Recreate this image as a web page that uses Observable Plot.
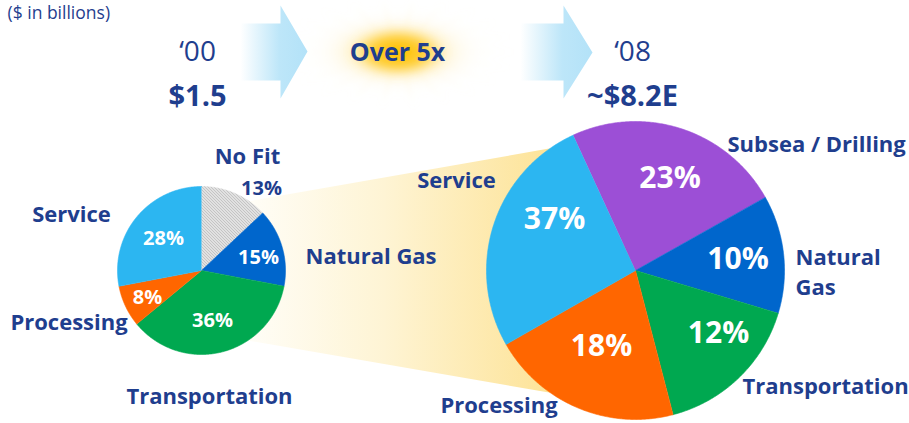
<!DOCTYPE html>
<html>
<head>
<meta charset="utf-8">
<script src="https://cdn.jsdelivr.net/npm/d3@7"></script>
<script src="https://cdn.jsdelivr.net/npm/@observablehq/plot@0.6"></script>
<style>
  html, body { margin: 0; padding: 0; background: #fff; }
  #chart { width: 909px; height: 423px; overflow: hidden; }
</style>
</head>
<body>
<div id="chart"></div>
<script>
// ---------------- data ----------------
const unitsLabel = "($ in billions)";
const yearLabels = ["‘00", "‘08"];
const totalLabels = ["$1.5", "~$8.2E"];
const growthLabel = "Over 5x";

const pie00Categories = ["No Fit", "Natural Gas", "Transportation", "Processing", "Service"];
const pie00Percent = [13, 15, 36, 8, 28];

const pie08Categories = ["Subsea / Drilling", "Natural Gas", "Transportation", "Processing", "Service"];
const pie08Percent = [23, 10, 12, 18, 37];          // printed labels
const pie08DrawnShare = [23.7, 12.8, 16.3, 20.8, 26.4]; // slice sizes as drawn in the picture

// ---------------- layout / style ----------------
const W = 909, H = 423;
const ink = "#1f3e8e";
const font = "'Open Sans', sans-serif";
const colors00 = ["url(#hatch)", "#0066cc", "#00a850", "#ff6600", "#2cb6f1"];
const colors08 = ["#9c4fd6", "#0066cc", "#00a850", "#ff6600", "#2cb6f1"];

const layout00 = {
  cx: 201, cy: 270, r: 84, start: 0,
  pct: [[261, 188.5, ink], [258, 257, "#fff"], [212, 320, "#fff"], [147, 297, "#fff"], [163, 238, "#fff"]],
  cat: [[247, 156.5, "middle"], [305, 254, "start"], [209, 396, "middle"], [68.5, 322, "middle"], [71, 214.5, "middle"]],
  wrap: [false, false, false, false, false]
};
const layout08 = {
  cx: 635, cy: 270, r: 149, start: -24.7,
  pct: [[669.5, 177.5, "#fff"], [737.5, 259, "#fff"], [718, 332.5, "#fff"], [601, 346, "#fff"], [554, 219, "#fff"]],
  cat: [[727, 142, "start"], [795, 270, "start"], [742, 384, "start"], [498.5, 405, "middle"], [456, 180, "middle"]],
  wrap: [false, true, false, false, false]
};
const headerLayout = { years: [[197, 52], [632, 52]], totals: [[197, 96], [632, 96]], growth: [397, 52], units: [7, 13] };
const arrowShapes = [
  [[240, 23], [280, 23], [280, 5], [307, 51], [280, 98], [280, 80], [240, 80]],
  [[520, 23], [563, 23], [563, 5], [592, 52], [563, 98], [563, 80], [520, 80]]
];
const fanShape = [[230, 204], [560, 146], [640, 270], [560, 394], [230, 337]];
const sun = { x: 398, y: 52, rx: 126, ry: 60 };

// ---------------- geometry helpers ----------------
function wedgeRows(shares, colors, L, prefix) {
  const a0 = L.start * Math.PI / 180;
  const arcs = d3.pie().sort(null).startAngle(a0).endAngle(a0 + 2 * Math.PI)(shares);
  const rows = [];
  arcs.forEach((p, i) => {
    const key = prefix + i, fill = colors[i];
    rows.push({ key, x: L.cx, y: L.cy, fill });
    const n = Math.max(2, Math.ceil((p.endAngle - p.startAngle) / (Math.PI / 360)));
    for (let k = 0; k <= n; k++) {
      const a = p.startAngle + (p.endAngle - p.startAngle) * k / n;
      rows.push({ key, x: L.cx + L.r * Math.sin(a), y: L.cy - L.r * Math.cos(a), fill });
    }
  });
  return rows;
}
function shapeRows(shapes, fill, prefix) {
  const rows = [];
  shapes.forEach((s, i) => s.forEach(([x, y]) => rows.push({ key: prefix + i, x, y, fill })));
  return rows;
}

const wedges = [...wedgeRows(pie00Percent, colors00, layout00, "a"), ...wedgeRows(pie08DrawnShare, colors08, layout08, "b")];
const arrows = shapeRows(arrowShapes, "url(#arrowGrad)", "arrow");
const fan = shapeRows([fanShape], "url(#fanGrad)", "fan");

const pctRows = [
  ...pie00Percent.map((v, i) => ({ text: v + "%", x: layout00.pct[i][0], y: layout00.pct[i][1], fill: layout00.pct[i][2], size: 20 })),
  ...pie08Percent.map((v, i) => ({ text: v + "%", x: layout08.pct[i][0], y: layout08.pct[i][1], fill: layout08.pct[i][2], size: 30 }))
];
const catRows = [
  ...pie00Categories.map((c, i) => ({ text: layout00.wrap[i] ? c.replace(" ", "\n") : c, x: layout00.cat[i][0], y: layout00.cat[i][1], anchor: layout00.cat[i][2] })),
  ...pie08Categories.map((c, i) => ({ text: layout08.wrap[i] ? c.replace(" ", "\n") : c, x: layout08.cat[i][0], y: layout08.cat[i][1], anchor: layout08.cat[i][2] }))
];

// sun render mark (decoration) positioned through the plot scales
function sunMark(index, scales) {
  const cx = scales.x(sun.x), cy = scales.y(sun.y);
  const g = d3.create("svg:g");
  const N = 44, pts = [];
  for (let i = 0; i < 2 * N; i++) {
    const a = i * Math.PI / N;
    const rad = i % 2 === 1 ? 0.22 : (i % 4 === 0 ? 1 : 0.75);
    pts.push([cx + sun.rx * rad * Math.cos(a), cy + sun.ry * rad * Math.sin(a)]);
  }
  g.append("path").attr("d", "M" + pts.join("L") + "Z").attr("fill", "url(#sunGrad)").attr("filter", "url(#sunBlur)");
  g.append("ellipse").attr("cx", cx).attr("cy", cy).attr("rx", sun.rx * 0.38).attr("ry", sun.ry * 0.42)
    .attr("fill", "url(#sunCore)").attr("filter", "url(#sunBlur2)");
  return g.node();
}

const common = { fontFamily: font, fontWeight: 700 };
const chart = Plot.plot({
  width: W, height: H, margin: 0,
  x: { domain: [0, W], range: [0, W], axis: null },
  y: { domain: [0, H], range: [0, H], axis: null },
  color: { type: "identity" },
  style: { fontFamily: font, background: "#fff", overflow: "hidden" },
  marks: [
    sunMark,
    Plot.line(arrows, { x: "x", y: "y", z: "key", fill: "fill", stroke: "none", curve: "linear" }),
    Plot.line(fan, { x: "x", y: "y", z: "key", fill: "fill", stroke: "none", curve: "linear" }),
    Plot.line(wedges, { x: "x", y: "y", z: "key", fill: "fill", stroke: "fill", strokeWidth: 0.6, curve: "linear" }),
    Plot.text([unitsLabel], { x: headerLayout.units[0], y: headerLayout.units[1], text: d => d, textAnchor: "start", fill: ink, fontSize: 17.5, fontFamily: font }),
    Plot.text(yearLabels, { x: (d, i) => headerLayout.years[i][0], y: (d, i) => headerLayout.years[i][1], text: d => d, fill: ink, fontSize: 28, fontFamily: font }),
    Plot.text(totalLabels, { x: (d, i) => headerLayout.totals[i][0], y: (d, i) => headerLayout.totals[i][1], text: d => d, fill: ink, fontSize: 29, ...common }),
    Plot.text([growthLabel], { x: headerLayout.growth[0], y: headerLayout.growth[1], text: d => d, fill: ink, fontSize: 25, ...common }),
    Plot.text(catRows.filter(d => d.anchor === "middle"), { x: "x", y: "y", text: "text", textAnchor: "middle", fill: ink, fontSize: 22, ...common }),
    Plot.text(catRows.filter(d => d.anchor === "start"), { x: "x", y: "y", text: "text", textAnchor: "start", fill: ink, fontSize: 22, lineHeight: 1.33, ...common }),
    Plot.text(pctRows.filter(d => d.size === 20), { x: "x", y: "y", text: "text", fill: "fill", fontSize: 20, ...common }),
    Plot.text(pctRows.filter(d => d.size === 30), { x: "x", y: "y", text: "text", fill: "fill", fontSize: 30, ...common })
  ]
});

// gradient / pattern definitions used by the fills
const defs = d3.select(chart).insert("defs", ":first-child");
const ag = defs.append("linearGradient").attr("id", "arrowGrad").attr("x1", 0).attr("x2", 1).attr("y1", 0).attr("y2", 0);
ag.append("stop").attr("offset", 0).attr("stop-color", "#ffffff");
ag.append("stop").attr("offset", 0.58).attr("stop-color", "#bde6f9");
ag.append("stop").attr("offset", 1).attr("stop-color", "#b3e2f8");
const fg = defs.append("linearGradient").attr("id", "fanGrad").attr("gradientUnits", "userSpaceOnUse")
  .attr("x1", 240).attr("x2", 560).attr("y1", 0).attr("y2", 0);
fg.append("stop").attr("offset", 0).attr("stop-color", "#fffef9");
fg.append("stop").attr("offset", 0.45).attr("stop-color", "#fef4d4");
fg.append("stop").attr("offset", 1).attr("stop-color", "#fde294");
const sg = defs.append("radialGradient").attr("id", "sunGrad");
sg.append("stop").attr("offset", 0).attr("stop-color", "#ffc20a");
sg.append("stop").attr("offset", 0.25).attr("stop-color", "#ffd550").attr("stop-opacity", 0.85);
sg.append("stop").attr("offset", 0.6).attr("stop-color", "#ffeab0").attr("stop-opacity", 0.45);
sg.append("stop").attr("offset", 1).attr("stop-color", "#fff8e0").attr("stop-opacity", 0);
const sc = defs.append("radialGradient").attr("id", "sunCore");
sc.append("stop").attr("offset", 0).attr("stop-color", "#ffbf00");
sc.append("stop").attr("offset", 0.5).attr("stop-color", "#ffca20").attr("stop-opacity", 0.7);
sc.append("stop").attr("offset", 1).attr("stop-color", "#ffe07a").attr("stop-opacity", 0);
defs.append("filter").attr("id", "sunBlur").attr("x", "-30%").attr("y", "-30%").attr("width", "160%").attr("height", "160%")
  .append("feGaussianBlur").attr("stdDeviation", 3.5);
defs.append("filter").attr("id", "sunBlur2").attr("x", "-30%").attr("y", "-30%").attr("width", "160%").attr("height", "160%")
  .append("feGaussianBlur").attr("stdDeviation", 5);
const hp = defs.append("pattern").attr("id", "hatch").attr("patternUnits", "userSpaceOnUse").attr("width", 3).attr("height", 3);
hp.append("rect").attr("width", 3).attr("height", 3).attr("fill", "#ffffff");
hp.append("path").attr("d", "M-1,-1L4,4M-1,2L1,4M2,-1L4,1").attr("stroke", "#7a7a7a").attr("stroke-width", 0.9);

document.getElementById("chart").appendChild(chart);
</script>
</body>
</html>
